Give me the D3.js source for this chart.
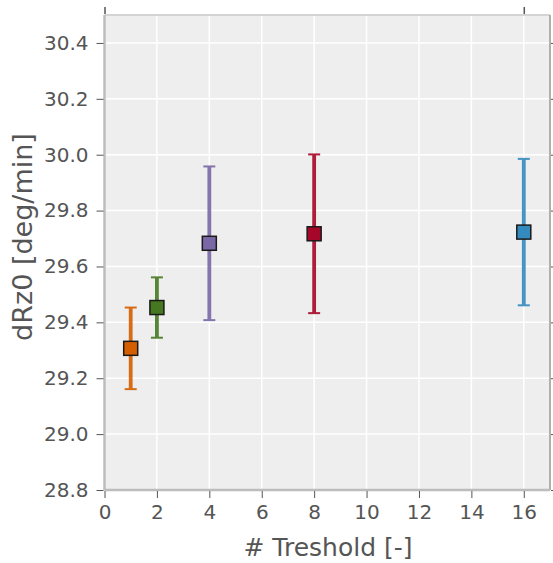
<!DOCTYPE html>
<html>
<head>
<meta charset="utf-8">
<script src="https://cdn.jsdelivr.net/npm/d3@7"></script>
<style>
  html, body { margin: 0; padding: 0; background: #ffffff; }
  svg { display: block; }
  text { font-family: "DejaVu Sans", sans-serif; fill: #555555; }
</style>
</head>
<body>
<svg id="chart" width="553" height="563"></svg>
<script>
// Measurements: threshold setting, mean rate and symmetric error
const thresholds = [1, 2, 4, 8, 16];
const rates = [29.307, 29.453, 29.683, 29.717, 29.723];
const errors = [0.146, 0.108, 0.275, 0.284, 0.262];
const colors = ["#D55E00", "#467821", "#7A68A6", "#A60628", "#348ABD"];
const xTicks = [0, 2, 4, 6, 8, 10, 12, 14, 16];
const yTicks = [28.8, 29.0, 29.2, 29.4, 29.6, 29.8, 30.0, 30.2, 30.4];

const svg = d3.select("#chart");
const pl = 104.5, pr = 550, pt = 15, pb = 490;

const x = d3.scaleLinear().domain([0, 17]).range([pl, pr]);
const y = d3.scaleLinear().domain([28.8, 30.5]).range([pb, pt]);

// panel background
svg.append("rect")
  .attr("x", pl).attr("y", pt)
  .attr("width", pr - pl).attr("height", pb - pt)
  .attr("fill", "#eeeeee");

// grid
const grid = svg.append("g");
grid.selectAll("line.gx").data(xTicks).enter().append("line")
  .attr("x1", d => x(d)).attr("x2", d => x(d))
  .attr("y1", pt).attr("y2", pb)
  .attr("stroke", "#ffffff").attr("stroke-width", 1.5);
grid.selectAll("line.gy").data(yTicks).enter().append("line")
  .attr("x1", pl).attr("x2", pr)
  .attr("y1", d => y(d)).attr("y2", d => y(d))
  .attr("stroke", "#ffffff").attr("stroke-width", 1.5);

// frame
svg.append("line").attr("x1", pl).attr("x2", pr).attr("y1", pt).attr("y2", pt)
  .attr("stroke", "#d4d4d4").attr("stroke-width", 2);
svg.append("line").attr("x1", pr).attr("x2", pr).attr("y1", pt).attr("y2", pb)
  .attr("stroke", "#b0b0b0").attr("stroke-width", 2);
svg.append("line").attr("x1", pl).attr("x2", pl).attr("y1", pt).attr("y2", pb)
  .attr("stroke", "#bcbcbc").attr("stroke-width", 2.5);
svg.append("line").attr("x1", pl).attr("x2", pr).attr("y1", pb).attr("y2", pb)
  .attr("stroke", "#bcbcbc").attr("stroke-width", 2.5);

// axes
const xAxis = d3.axisBottom(x).tickValues(xTicks).tickFormat(d3.format("d"))
  .tickSize(7).tickPadding(7);
const gx = svg.append("g").attr("transform", `translate(0,${pb + 1})`).call(xAxis);
gx.select(".domain").remove();
gx.selectAll(".tick line").attr("stroke", "#555555").attr("stroke-width", 1);
gx.selectAll(".tick text").attr("font-size", 20).attr("fill", "#555555")
  .style("font-family", "DejaVu Sans, sans-serif");

const yAxis = d3.axisLeft(y).tickValues(yTicks).tickFormat(d3.format(".1f"))
  .tickSize(7).tickPadding(8);
const gy = svg.append("g").attr("transform", `translate(${pl - 1},0)`).call(yAxis);
gy.select(".domain").remove();
gy.selectAll(".tick line").attr("stroke", "#555555").attr("stroke-width", 1);
gy.selectAll(".tick text").attr("font-size", 20).attr("fill", "#555555")
  .style("font-family", "DejaVu Sans, sans-serif");

// right-side ticks
const yRight = d3.axisRight(y).tickValues(yTicks).tickFormat("").tickSize(5);
const gyr = svg.append("g").attr("transform", `translate(${pr + 1},0)`).call(yRight);
gyr.select(".domain").remove();
gyr.selectAll(".tick line").attr("stroke", "#555555").attr("stroke-width", 1);

// top ticks at the ends
const xTop = d3.axisTop(x).tickValues([0, 16]).tickFormat("").tickSize(7);
const gxt = svg.append("g").attr("transform", `translate(0,${pt - 1})`).call(xTop);
gxt.select(".domain").remove();
gxt.selectAll(".tick line").attr("stroke", "#555555").attr("stroke-width", 1.5);

// axis titles
svg.append("text")
  .attr("x", 328).attr("y", 556)
  .attr("text-anchor", "middle").attr("font-size", 25)
  .text("# Treshold [-]");
svg.append("text")
  .attr("transform", `translate(32,237) rotate(-90)`)
  .attr("text-anchor", "middle").attr("font-size", 27)
  .text("dRz0 [deg/min]");

// error bars and markers
const pts = thresholds.map((t, i) => ({ t, v: rates[i], e: errors[i], c: colors[i] }));
const marks = svg.append("g");
const cap = 6;
pts.forEach(p => {
  const g = marks.append("g").attr("opacity", 0.9);
  g.append("line")
    .attr("x1", x(p.t)).attr("x2", x(p.t))
    .attr("y1", y(p.v - p.e)).attr("y2", y(p.v + p.e))
    .attr("stroke", p.c).attr("stroke-width", 3.8);
  [p.v - p.e, p.v + p.e].forEach(b => {
    g.append("line")
      .attr("x1", x(p.t) - cap).attr("x2", x(p.t) + cap)
      .attr("y1", y(b)).attr("y2", y(b))
      .attr("stroke", p.c).attr("stroke-width", 2);
  });
  const s = 14;
  marks.append("rect")
    .attr("x", x(p.t) - s / 2).attr("y", y(p.v) - s / 2)
    .attr("width", s).attr("height", s)
    .attr("fill", p.c).attr("stroke", "#1a1a1a").attr("stroke-width", 1.5);
});
</script>
</body>
</html>
